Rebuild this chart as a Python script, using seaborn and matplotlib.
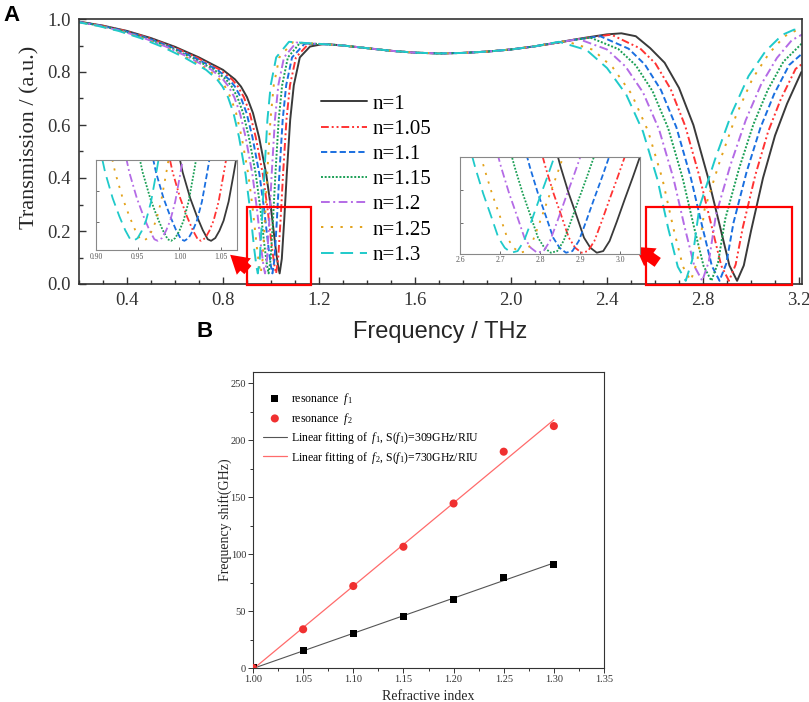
import numpy as np
import pandas as pd
import matplotlib
matplotlib.use("Agg")
import matplotlib.pyplot as plt
import seaborn as sns
from matplotlib.ticker import MultipleLocator, FormatStrFormatter, FixedLocator
from matplotlib.patches import Rectangle, FancyArrowPatch
from matplotlib.collections import PathCollection

# ---------------- data: panel A (transmission spectra) ----------------
labels = ["n=1", "n=1.05", "n=1.1", "n=1.15", "n=1.2", "n=1.25", "n=1.3"]

# first resonance: transmission levels shared by all curves
dip1_t = [0.990, 0.975, 0.955, 0.928, 0.895, 0.855, 0.808, 0.772, 0.745, 0.705, 0.645, 0.555, 0.415,
          0.285, 0.130, 0.065, 0.040, 0.095, 0.240, 0.420, 0.620, 0.750, 0.855]
dip1_f_n100 = [0.200, 0.300, 0.400, 0.500, 0.600, 0.700, 0.800, 0.850, 0.875, 0.900, 0.925, 0.950, 0.980,
               1.000, 1.020, 1.030, 1.036, 1.045, 1.055, 1.066, 1.080, 1.095, 1.120]
dip1_f_n105 = [0.1971, 0.2957, 0.3942, 0.4928, 0.5913, 0.6899, 0.7884, 0.8377, 0.8623, 0.8870, 0.9116, 0.9362, 0.9658,
               0.9855, 1.0052, 1.0151, 1.0210, 1.0299, 1.0397, 1.0506, 1.0644, 1.0791, 1.1038]
dip1_f_n110 = [0.1942, 0.2913, 0.3884, 0.4855, 0.5826, 0.6797, 0.7768, 0.8254, 0.8497, 0.8739, 0.8982, 0.9225, 0.9516,
               0.9710, 0.9905, 1.0002, 1.0060, 1.0147, 1.0244, 1.0351, 1.0487, 1.0633, 1.0876]
dip1_f_n115 = [0.1911, 0.2867, 0.3822, 0.4778, 0.5734, 0.6689, 0.7645, 0.8123, 0.8362, 0.8600, 0.8839, 0.9078, 0.9365,
               0.9556, 0.9747, 0.9843, 0.9900, 0.9986, 1.0082, 1.0187, 1.0320, 1.0464, 1.0703]
dip1_f_n120 = [0.1882, 0.2823, 0.3764, 0.4706, 0.5647, 0.6588, 0.7529, 0.8000, 0.8235, 0.8470, 0.8705, 0.8941, 0.9223,
               0.9411, 0.9599, 0.9694, 0.9750, 0.9835, 0.9929, 1.0032, 1.0164, 1.0305, 1.0541]
dip1_f_n125 = [0.1848, 0.2771, 0.3695, 0.4619, 0.5543, 0.6466, 0.7390, 0.7852, 0.8083, 0.8314, 0.8545, 0.8776, 0.9053,
               0.9238, 0.9422, 0.9515, 0.9570, 0.9653, 0.9746, 0.9847, 0.9977, 1.0115, 1.0346]
dip1_f_n130 = [0.1824, 0.2736, 0.3649, 0.4561, 0.5473, 0.6385, 0.7297, 0.7753, 0.7981, 0.8209, 0.8437, 0.8666, 0.8939,
               0.9122, 0.9304, 0.9395, 0.9450, 0.9532, 0.9623, 0.9724, 0.9851, 0.9988, 1.0216]

# peak after the first resonance
peak_f_n100 = [1.1625, 1.220]; peak_t_n100 = [0.896, 0.906]
peak_f_n105 = [1.155, 1.220]; peak_t_n105 = [0.905, 0.905]
peak_f_n110 = [1.140, 1.220]; peak_t_n110 = [0.907, 0.905]
peak_f_n115 = [1.120, 1.220]; peak_t_n115 = [0.909, 0.905]
peak_f_n120 = [1.105, 1.220]; peak_t_n120 = [0.911, 0.905]
peak_f_n125 = [1.090, 1.220]; peak_t_n125 = [0.912, 0.905]
peak_f_n130 = [1.075, 1.150, 1.220]; peak_t_n130 = [0.914, 0.909, 0.905]

# common plateau
plateau_f = [1.30, 1.40, 1.50, 1.60, 1.70, 1.80, 1.90, 2.00]
plateau_t = [0.900, 0.890, 0.880, 0.873, 0.870, 0.872, 0.877, 0.885]

# second resonance
dip2_f_n100 = [2.10, 2.20, 2.30, 2.40, 2.46, 2.52, 2.58, 2.64, 2.70, 2.76, 2.82, 2.87, 2.91, 2.942,
               2.97, 3.00, 3.05, 3.10, 3.15, 3.21]
dip2_t_n100 = [0.897, 0.912, 0.928, 0.942, 0.946, 0.935, 0.890, 0.835, 0.740, 0.600, 0.405, 0.220, 0.070, 0.012,
               0.070, 0.200, 0.400, 0.560, 0.680, 0.800]
dip2_f_n105 = [2.10, 2.20, 2.268, 2.418, 2.538, 2.602, 2.665, 2.726, 2.786, 2.836, 2.876, 2.908,
               2.936, 2.966, 3.018, 3.071, 3.124, 3.186, 3.22]
dip2_t_n105 = [0.897, 0.911, 0.923, 0.941, 0.889, 0.832, 0.736, 0.596, 0.403, 0.218, 0.069, 0.012,
               0.073, 0.214, 0.411, 0.574, 0.697, 0.812, 0.835]
dip2_f_n110 = [2.10, 2.232, 2.372, 2.490, 2.558, 2.625, 2.689, 2.749, 2.797, 2.837, 2.869,
               2.897, 2.927, 2.982, 3.039, 3.096, 3.159, 3.22]
dip2_t_n110 = [0.897, 0.9175, 0.935, 0.888, 0.828, 0.7315, 0.5915, 0.4016, 0.2166, 0.068, 0.012,
               0.077, 0.231, 0.424, 0.589, 0.716, 0.8265, 0.875]
dip2_f_n115 = [2.10, 2.20, 2.33, 2.4475, 2.52, 2.59, 2.655, 2.715, 2.7625, 2.8025, 2.835,
               2.8625, 2.8925, 2.95, 3.01, 3.07, 3.135, 3.22]
dip2_t_n115 = [0.897, 0.9125, 0.930, 0.8865, 0.825, 0.7275, 0.5875, 0.400, 0.215, 0.0675, 0.012,
               0.080, 0.245, 0.435, 0.6025, 0.7325, 0.839, 0.915]
dip2_f_n120 = [2.10, 2.164, 2.283, 2.400, 2.477, 2.550, 2.617, 2.677, 2.724, 2.764, 2.797,
               2.824, 2.854, 2.914, 2.978, 3.041, 3.108, 3.17, 3.22]
dip2_t_n120 = [0.897, 0.907, 0.924, 0.885, 0.821, 0.723, 0.583, 0.398, 0.213, 0.067, 0.012,
               0.084, 0.261, 0.448, 0.618, 0.751, 0.853, 0.920, 0.945]
dip2_f_n125 = [2.12, 2.226, 2.3415, 2.424, 2.502, 2.571, 2.631, 2.6765, 2.7165, 2.749,
               2.7765, 2.8065, 2.870, 2.938, 3.006, 3.075, 3.14, 3.19, 3.22]
dip2_t_n125 = [0.900, 0.917, 0.884, 0.817, 0.7175, 0.5775, 0.396, 0.211, 0.0655, 0.012,
               0.088, 0.281, 0.463, 0.6365, 0.7745, 0.870, 0.935, 0.958, 0.955]
dip2_f_n130 = [2.10, 2.20, 2.315, 2.40, 2.48, 2.55, 2.61, 2.655, 2.695, 2.728,
               2.755, 2.785, 2.85, 2.92, 2.99, 3.06, 3.13, 3.18, 3.22]
dip2_t_n130 = [0.897, 0.914, 0.883, 0.815, 0.715, 0.575, 0.395, 0.210, 0.065, 0.012,
               0.090, 0.290, 0.470, 0.645, 0.785, 0.878, 0.940, 0.960, 0.952]

dip1_f = [dip1_f_n100, dip1_f_n105, dip1_f_n110, dip1_f_n115, dip1_f_n120, dip1_f_n125, dip1_f_n130]
peak_f = [peak_f_n100, peak_f_n105, peak_f_n110, peak_f_n115, peak_f_n120, peak_f_n125, peak_f_n130]
peak_t = [peak_t_n100, peak_t_n105, peak_t_n110, peak_t_n115, peak_t_n120, peak_t_n125, peak_t_n130]
dip2_f = [dip2_f_n100, dip2_f_n105, dip2_f_n110, dip2_f_n115, dip2_f_n120, dip2_f_n125, dip2_f_n130]
dip2_t = [dip2_t_n100, dip2_t_n105, dip2_t_n110, dip2_t_n115, dip2_t_n120, dip2_t_n125, dip2_t_n130]

# ---------------- inset 1 (zoom of first resonance) ----------------
ins1_t = [0.36, 0.26, 0.176, 0.117, 0.072, 0.042, 0.037, 0.046, 0.070, 0.103, 0.165, 0.255, 0.35]
ins1_f_n100 = [0.996, 1.004, 1.013, 1.021, 1.028, 1.034, 1.038, 1.043, 1.048, 1.053, 1.059, 1.065, 1.071]
ins1_f_n105 = [0.984, 0.992, 1.001, 1.009, 1.016, 1.022, 1.026, 1.031, 1.036, 1.041, 1.047, 1.053, 1.059]
ins1_f_n110 = [0.964, 0.972, 0.981, 0.989, 0.996, 1.002, 1.006, 1.011, 1.016, 1.021, 1.027, 1.033, 1.039]
ins1_f_n115 = [0.948, 0.956, 0.965, 0.973, 0.980, 0.986, 0.990, 0.995, 1.000, 1.005, 1.011, 1.017, 1.023]
ins1_f_n120 = [0.932, 0.940, 0.949, 0.957, 0.964, 0.970, 0.974, 0.979, 0.984, 0.989, 0.995, 1.001, 1.007]
ins1_f_n125 = [0.915, 0.923, 0.932, 0.940, 0.947, 0.953, 0.957, 0.962, 0.967, 0.972, 0.978, 0.984, 0.990]
ins1_f_n130 = [0.903, 0.911, 0.920, 0.928, 0.935, 0.941, 0.945, 0.950, 0.955, 0.960, 0.966, 0.972, 0.978]
ins1_f = [ins1_f_n100, ins1_f_n105, ins1_f_n110, ins1_f_n115, ins1_f_n120, ins1_f_n125, ins1_f_n130]

# ---------------- inset 2 (zoom of second resonance) ----------------
ins2_t = [0.36, 0.27, 0.19, 0.12, 0.055, 0.024, 0.009, 0.014, 0.045, 0.104, 0.173, 0.240, 0.31, 0.36]
ins2_f_n100 = [2.832, 2.852, 2.872, 2.892, 2.910, 2.926, 2.942, 2.958, 2.974, 2.992, 3.012, 3.032, 3.052, 3.067]
ins2_f_n105 = [2.794, 2.814, 2.834, 2.854, 2.872, 2.888, 2.904, 2.920, 2.936, 2.954, 2.974, 2.994, 3.014, 3.029]
ins2_f_n110 = [2.755, 2.775, 2.795, 2.815, 2.833, 2.849, 2.865, 2.881, 2.897, 2.915, 2.935, 2.955, 2.975, 2.990]
ins2_f_n115 = [2.717, 2.737, 2.757, 2.777, 2.795, 2.811, 2.827, 2.843, 2.859, 2.877, 2.897, 2.917, 2.937, 2.952]
ins2_f_n120 = [2.683, 2.703, 2.723, 2.743, 2.761, 2.777, 2.793, 2.809, 2.825, 2.843, 2.863, 2.883, 2.903, 2.918]
ins2_f_n125 = [2.640, 2.660, 2.680, 2.700, 2.718, 2.734, 2.750, 2.766, 2.782, 2.800, 2.820, 2.840, 2.860, 2.875]
ins2_f_n130 = [2.618, 2.638, 2.658, 2.678, 2.696, 2.712, 2.728, 2.744, 2.760, 2.778, 2.798, 2.818, 2.838, 2.853]
ins2_f = [ins2_f_n100, ins2_f_n105, ins2_f_n110, ins2_f_n115, ins2_f_n120, ins2_f_n125, ins2_f_n130]

# ---------------- data: panel B ----------------
ref_index = [1.00, 1.05, 1.10, 1.15, 1.20, 1.25, 1.30]
shift_f1 = [0.0, 15.0, 30.0, 45.5, 60.5, 79.5, 91.0]
shift_f2 = [0.0, 34.0, 72.0, 106.5, 144.5, 190.0, 212.5]
legend_b = [r"resonance  $f_1$", r"resonance  $f_2$",
            r"Linear fitting of  $f_1$, S($f_1$)=309GHz/RIU",
            r"Linear fitting of  $f_2$, S($f_1$)=730GHz/RIU"]

# ---------------- styles ----------------
colors = ["#3a3a3a", "#ff3333", "#1a6fe0", "#1a9f55", "#b46be6", "#e3a21a", "#1fcaca"]
dash_styles = ["", (4, 1.5, 1, 1.5, 1, 1.5), (3.2, 1.6), (1, 0.9), (4.5, 1.8, 1, 1.8), (1.2, 3.8), (6.5, 3.5)]
palette = dict(zip(labels, colors))
dashes = dict(zip(labels, dash_styles))

sns.set_theme(style="ticks")
plt.rcParams["font.family"] = ["Liberation Serif", "DejaVu Serif"]
plt.rcParams["mathtext.fontset"] = "custom"
plt.rcParams["mathtext.rm"] = "Liberation Serif"
plt.rcParams["mathtext.it"] = "Liberation Serif:italic"
plt.rcParams["axes.edgecolor"] = "#333333"
plt.rcParams["xtick.color"] = "#333333"
plt.rcParams["ytick.color"] = "#333333"
plt.rcParams["text.color"] = "black"

W, H = 809, 702
fig = plt.figure(figsize=(W / 100, H / 100), dpi=100)

def rect(l, t, r, b):
    return [l / W, 1 - b / H, (r - l) / W, (b - t) / H]

# ---------------- panel A ----------------
rows = []
for i, lab in enumerate(labels):
    f = list(dip1_f[i]) + list(peak_f[i]) + plateau_f + list(dip2_f[i])
    t = list(dip1_t) + list(peak_t[i]) + plateau_t + list(dip2_t[i])
    rows.append(pd.DataFrame({"freq": f, "T": t, "n": lab}))
dfA = pd.concat(rows, ignore_index=True)

axA = fig.add_axes(rect(79, 19, 802, 284))
sns.lineplot(data=dfA, x="freq", y="T", hue="n", style="n", hue_order=labels, style_order=labels,
             palette=palette, dashes=dashes, estimator=None, sort=False, legend=False,
             linewidth=1.4, ax=axA)
axA.set_xlim(0.2, 3.2125)
axA.set_ylim(0, 1.0)
axA.xaxis.set_major_locator(MultipleLocator(0.4))
axA.xaxis.set_minor_locator(MultipleLocator(0.1))
axA.yaxis.set_major_locator(MultipleLocator(0.2))
axA.yaxis.set_minor_locator(MultipleLocator(0.1))
axA.xaxis.set_major_formatter(FormatStrFormatter("%.1f"))
axA.yaxis.set_major_formatter(FormatStrFormatter("%.1f"))
axA.tick_params(which="both", direction="in", top=False, right=False, labelsize=13.5, width=1)
axA.tick_params(which="major", length=5, pad=6)
axA.tick_params(which="minor", length=3)
for sp in axA.spines.values():
    sp.set_linewidth(1.2)
axA.set_xlabel("Frequency / THz", fontsize=17, family=["Liberation Sans", "DejaVu Sans"])
axA.xaxis.set_label_coords(0.5, -0.14)
axA.set_ylabel("Transmission / (a.u.)", fontsize=16)
axA.yaxis.set_label_coords(-0.055, 0.555)

legA = axA.legend(handles=axA.get_lines()[:7], labels=labels, loc="upper left",
                  bbox_to_anchor=(321 / W, 1 - 94 / H), bbox_transform=fig.transFigure,
                  frameon=False, fontsize=15, handlelength=2.2, handletextpad=0.25,
                  labelspacing=0.27, borderpad=0, borderaxespad=0)

# red highlight boxes
axA.add_patch(Rectangle((0.90, -0.004), 0.265, 0.296, fill=False, ec="#ff0000", lw=1.6,
                        clip_on=False, zorder=5))
axA.add_patch(Rectangle((2.5625, -0.004), 0.6075, 0.296, fill=False, ec="#ff0000", lw=1.6,
                        clip_on=False, zorder=5))
arrow_style = "simple,head_length=0.5,head_width=0.6,tail_width=0.3"
for tail, head in [((0.9125, 0.046), (0.821, 0.117)), ((2.6208, 0.0755), (2.5096, 0.146))]:
    axA.add_patch(FancyArrowPatch(tail, head, arrowstyle=arrow_style, mutation_scale=26,
                                  color="#ff0000", lw=0, clip_on=False, zorder=6))

# insets
def make_inset(r, fl, tl, xlim, ylim, xticks, fmt):
    ax = fig.add_axes(r)
    rws = []
    for i, lab in enumerate(labels):
        rws.append(pd.DataFrame({"freq": fl[i], "T": tl, "n": lab}))
    d = pd.concat(rws, ignore_index=True)
    sns.lineplot(data=d, x="freq", y="T", hue="n", style="n", hue_order=labels, style_order=labels,
                 palette=palette, dashes=dashes, estimator=None, sort=False, legend=False,
                 linewidth=1.3, ax=ax)
    ax.set_xlim(*xlim)
    ax.set_ylim(*ylim)
    ax.set_xlabel("")
    ax.set_ylabel("")
    ax.xaxis.set_major_locator(FixedLocator(xticks))
    ax.xaxis.set_major_formatter(FormatStrFormatter(fmt))
    ax.yaxis.set_major_locator(FixedLocator([0.1, 0.2]))
    ax.tick_params(which="both", direction="in", labelsize=5.5, length=2.5, width=0.6,
                   colors="#555555", pad=2, labelleft=False)
    for sp in ax.spines.values():
        sp.set_linewidth(0.8)
        sp.set_color("#888888")
    ax.set_facecolor("white")
    return ax

make_inset(rect(96, 160, 236.7, 250), ins1_f, ins1_t, (0.90, 1.0687), (0.007, 0.301),
           [0.90, 0.95, 1.00, 1.05], "%.2f")
make_inset(rect(460, 157, 640, 253.7), ins2_f, ins2_t, (2.6, 3.05), (0.006, 0.302),
           [2.6, 2.7, 2.8, 2.9, 3.0], "%.1f")

# ---------------- panel B ----------------
axB = fig.add_axes(rect(253, 372, 604, 668))
fit1 = np.polyfit(ref_index, shift_f1, 1)
fit2 = np.polyfit(ref_index, shift_f2, 1)
sns.lineplot(x=ref_index, y=np.polyval(fit1, ref_index), color="#555555", linewidth=0.8,
             errorbar=None, ax=axB)
sns.lineplot(x=ref_index, y=np.polyval(fit2, ref_index), color="#ff6b6b", linewidth=0.9,
             errorbar=None, ax=axB)
sns.scatterplot(x=ref_index, y=shift_f1, marker="s", color="black", s=26, edgecolor="none", ax=axB, zorder=3)
sns.scatterplot(x=ref_index, y=shift_f2, marker="o", color="#f03030", s=34, edgecolor="none", ax=axB, zorder=3)
axB.set_xlim(1.0, 1.35)
axB.set_ylim(0, 260)
axB.xaxis.set_major_locator(MultipleLocator(0.05))
axB.xaxis.set_minor_locator(MultipleLocator(0.025))
axB.yaxis.set_major_locator(MultipleLocator(50))
axB.yaxis.set_minor_locator(MultipleLocator(25))
axB.xaxis.set_major_formatter(FormatStrFormatter("%.2f"))
axB.tick_params(which="both", direction="out", labelsize=7.5, width=0.7, pad=1.5)
axB.tick_params(which="major", length=3.5)
axB.tick_params(which="minor", length=2)
for sp in axB.spines.values():
    sp.set_linewidth(0.8)
axB.set_xlabel("Refractive index", fontsize=10)
axB.xaxis.set_label_coords(0.5, -0.075)
axB.set_ylabel("Frequency shift(GHz)", fontsize=10)
axB.yaxis.set_label_coords(-0.06, 0.5)
pcs = [c for c in axB.collections if isinstance(c, PathCollection)]
hB = [pcs[0], pcs[1], axB.lines[0], axB.lines[1]]
axB.legend(handles=hB, labels=legend_b, loc="upper left",
           bbox_to_anchor=(263 / W, 1 - 391 / H), bbox_transform=fig.transFigure,
           frameon=False, fontsize=8.5, handlelength=2.0, handletextpad=0.4,
           labelspacing=0.3, borderpad=0, borderaxespad=0)

# panel letters
fig.text(3 / W, 1 - 5 / H, "A", fontsize=16, weight="bold", va="top", ha="left",
         family=["Liberation Sans", "DejaVu Sans"])
fig.text(197 / W, 1 - 321 / H, "B", fontsize=16, weight="bold", va="top", ha="left",
         family=["Liberation Sans", "DejaVu Sans"])

fig.savefig("out.png", dpi=100)
